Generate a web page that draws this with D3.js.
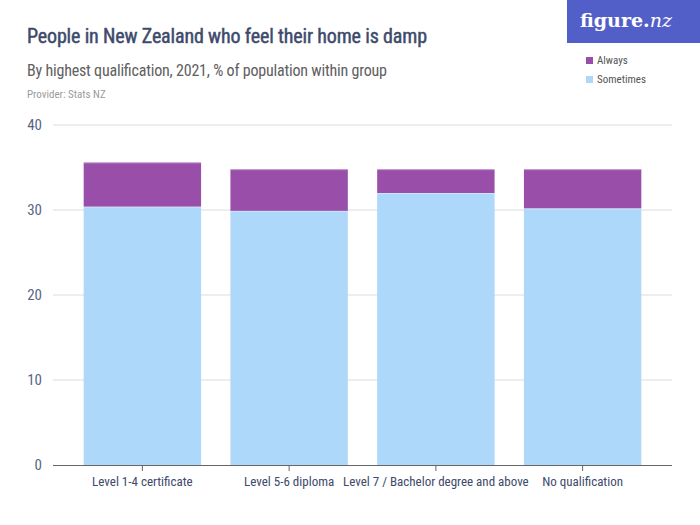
<!DOCTYPE html>
<html><head><meta charset="utf-8">
<script src="https://cdn.jsdelivr.net/npm/d3@7"></script>
<style>
body{margin:0;background:#fff;}
svg{display:block;}
</style></head>
<body>
<svg id="chart" width="700" height="525"></svg>
<script>
const categories = ["Level 1-4 certificate","Level 5-6 diploma","Level 7 / Bachelor degree and above","No qualification"];
const sometimes = [30.4, 29.9, 32.0, 30.2];
const always = [5.2, 4.9, 2.8, 4.6];
const yTicks = [0, 10, 20, 30, 40];
const seriesNames = ["Always", "Sometimes"];
const colors = {Always: "#994fa9", Sometimes: "#aed8fa"};

const font = "'Liberation Sans Narrow','Roboto Condensed','Roboto',sans-serif";
const svg = d3.select("#chart");

const x = d3.scaleBand().domain(categories).range([69, 656]).paddingInner(0.2).paddingOuter(0.1);
const y = d3.scaleLinear().domain([0, 40]).range([465, 125]);

// title area
svg.append("text").attr("x", 27).attr("y", 43).text("People in New Zealand who feel their home is damp")
  .attr("font-family", font).attr("font-size", 20).attr("font-weight", "normal").attr("fill", "#3d4a6b")
  .attr("stroke", "#3d4a6b").attr("stroke-width", 0.45).attr("textLength", 400);
svg.append("text").attr("x", 27).attr("y", 76).text("By highest qualification, 2021, % of population within group")
  .attr("font-family", font).attr("font-size", 16).attr("fill", "#606060").attr("textLength", 360);
svg.append("text").attr("x", 27).attr("y", 98).text("Provider: Stats NZ")
  .attr("font-family", font).attr("font-size", 11).attr("fill", "#9a9a9a");

// logo
svg.append("rect").attr("x", 567).attr("y", 0).attr("width", 133).attr("height", 43).attr("fill", "#535fc8");
const logo = svg.append("text").attr("x", 580).attr("y", 27)
  .attr("font-family", "'DejaVu Serif','Liberation Serif',serif").attr("font-size", 19).attr("font-weight", "bold")
  .attr("fill", "#fff");
logo.append("tspan").text("figure.");
logo.append("tspan").text("nz").attr("font-style", "italic").attr("font-weight", "normal");

// legend
seriesNames.forEach((s, i) => {
  const ly = 60 + i * 19;
  svg.append("rect").attr("x", 586).attr("y", ly - 3).attr("width", 7).attr("height", 7).attr("fill", colors[s]);
  svg.append("text").attr("x", 597).attr("y", ly + 4).text(s)
    .attr("font-family", font).attr("font-size", 11).attr("fill", "#555");
});

// gridlines
const grid = svg.append("g");
yTicks.filter(t => t > 0).forEach(t => {
  grid.append("line").attr("x1", 53).attr("x2", 672).attr("y1", y(t)).attr("y2", y(t))
    .attr("stroke", "#dcdcdc").attr("stroke-width", 1);
});

// y axis labels
const yAxis = d3.axisLeft(y).tickValues(yTicks).tickSize(0).tickPadding(0);
const yg = svg.append("g").attr("transform", "translate(42,0)").call(yAxis);
yg.select(".domain").remove();
yg.selectAll("text").attr("font-family", font).attr("font-size", 15).attr("fill", "#5a6585").attr("dy", "0.32em");

// stacked bars
const data = categories.map((c, i) => ({cat: c, Sometimes: sometimes[i], Always: always[i]}));
const stack = d3.stack().keys(["Sometimes", "Always"])(data);
stack.forEach(layer => {
  const g = svg.append("g");
  g.selectAll("rect").data(layer).join("rect")
    .attr("x", d => x(d.data.cat)).attr("width", x.bandwidth())
    .attr("y", d => y(d[1])).attr("height", d => y(d[0]) - y(d[1]))
    .attr("fill", colors[layer.key]);
  g.selectAll("line").data(layer).join("line")
    .attr("x1", d => x(d.data.cat)).attr("x2", d => x(d.data.cat) + x.bandwidth())
    .attr("y1", d => y(d[1]) + 0.5).attr("y2", d => y(d[1]) + 0.5)
    .attr("stroke", "#fff").attr("stroke-opacity", 0.35).attr("stroke-width", 1);
});

// x axis
const xAxis = d3.axisBottom(x).tickSize(6).tickPadding(6);
const xg = svg.append("g").attr("transform", "translate(0,465)").call(xAxis);
xg.select(".domain").remove();
xg.append("line").attr("x1", 53).attr("x2", 672).attr("y1", 0.5).attr("y2", 0.5).attr("stroke", "#666").attr("stroke-width", 1.2);
xg.selectAll(".tick line").attr("stroke", "#666");
xg.selectAll("text").attr("font-family", font).attr("font-size", 13).attr("fill", "#3d4a6b");
</script>
</body></html>
